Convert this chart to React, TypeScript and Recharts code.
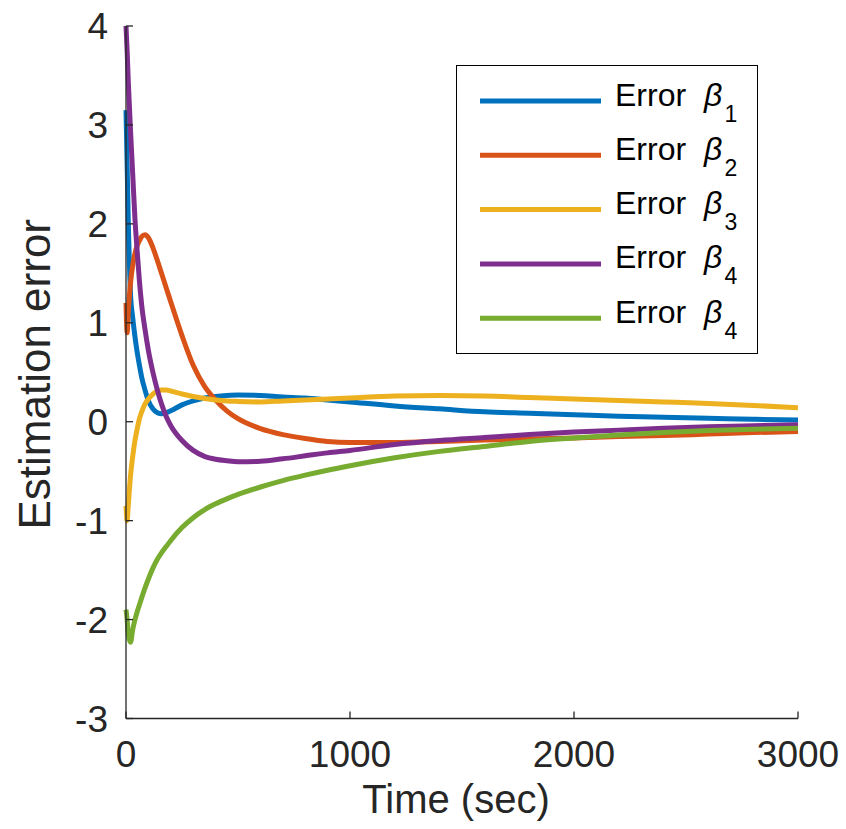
import { LineChart, Line, XAxis, YAxis, Legend } from "recharts"

const times = [
  0, 5, 10, 20, 30, 40, 50, 60, 70, 85, 100, 120, 140, 160, 180, 200, 250, 300, 350, 400, 450, 500,
  600, 700, 800, 900, 1000, 1200, 1400, 1600, 1800, 2000, 2200, 2400, 2600, 2800, 3000,
]

const beta1 = [
  3.15, 2.6, 2.05, 1.3, 1.05, 0.86, 0.7, 0.57, 0.45, 0.32, 0.21, 0.13, 0.09, 0.08, 0.09, 0.11, 0.17, 0.21, 0.24,
  0.255, 0.265, 0.27, 0.265, 0.25, 0.24, 0.22, 0.2, 0.16, 0.13, 0.1, 0.085, 0.07, 0.055, 0.045, 0.035, 0.025, 0.017,
]

const beta2 = [
  1.2, 0.9, 1.1, 1.4, 1.58, 1.7, 1.78, 1.83, 1.87, 1.89, 1.86, 1.76, 1.63, 1.49, 1.35, 1.21, 0.87, 0.57, 0.36,
  0.22, 0.11, 0.03, -0.07, -0.13, -0.17, -0.2, -0.21, -0.21, -0.2, -0.185, -0.175, -0.165, -0.15, -0.14, -0.125,
  -0.11, -0.1,
]

const beta3 = [
  -0.85, -1.0, -0.85, -0.55, -0.35, -0.19, -0.07, 0.03, 0.1, 0.18, 0.23, 0.28, 0.31, 0.32, 0.32, 0.31, 0.28, 0.255,
  0.235, 0.22, 0.21, 0.205, 0.2, 0.21, 0.22, 0.23, 0.24, 0.26, 0.265, 0.26, 0.245, 0.23, 0.215, 0.2, 0.185, 0.165,
  0.14,
]

const beta4 = [
  4.0, 3.75, 3.45, 2.95, 2.5, 2.05, 1.72, 1.42, 1.18, 0.93, 0.72, 0.5, 0.32, 0.17, 0.05, -0.04, -0.19, -0.29, -0.35,
  -0.38, -0.395, -0.405, -0.4, -0.375, -0.345, -0.315, -0.29, -0.23, -0.19, -0.16, -0.13, -0.105, -0.085, -0.065,
  -0.05, -0.04, -0.03,
]

const beta5 = [
  -1.9, -2.0, -2.15, -2.23, -2.1, -2.0, -1.92, -1.85, -1.78, -1.68, -1.59, -1.48, -1.39, -1.32, -1.26, -1.2, -1.07,
  -0.97, -0.89, -0.83, -0.78, -0.735, -0.66, -0.595, -0.54, -0.49, -0.445, -0.365, -0.3, -0.25, -0.2, -0.165, -0.135,
  -0.11, -0.09, -0.075, -0.065,
]

const xTicks = [0, 1000, 2000, 3000]
const yTicks = [-3, -2, -1, 0, 1, 2, 3, 4]

const seriesKeys = ["b1", "b2", "b3", "b4", "b5"]
const seriesColors = ["#0072BD", "#D95319", "#EDB120", "#7E2F8E", "#77AC30"]
const seriesSubs = ["1", "2", "3", "4", "4"]

const data = times.map((t, i) => ({
  t,
  b1: beta1[i],
  b2: beta2[i],
  b3: beta3[i],
  b4: beta4[i],
  b5: beta5[i],
}))

const FONT = "'Liberation Sans', Arial, Helvetica, sans-serif"
const AXIS = "#262626"

const YLabel = ({ viewBox }: any) => {
  const cx = viewBox.x + 50
  const cy = viewBox.y + viewBox.height / 2 + 2
  return (
    <text
      x={cx}
      y={cy}
      transform={`rotate(-90 ${cx} ${cy})`}
      textAnchor="middle"
      fontSize={44}
      fontFamily={FONT}
      fill={AXIS}
    >
      Estimation error
    </text>
  )
}

const XLabel = ({ viewBox }: any) => {
  const cx = viewBox.x + viewBox.width / 2 - 6
  return (
    <text x={cx} y={813} textAnchor="middle" fontSize={40} fontFamily={FONT} fill={AXIS}>
      Time (sec)
    </text>
  )
}

const renderLegend = () => (
  <svg width={302} height={289} style={{ display: "block" }}>
    <rect x={0.5} y={0.5} width={301} height={288} fill="#fff" stroke="#000" strokeWidth={1} />
    {seriesKeys.map((k, i) => {
      const ly = 36 + i * 54.3
      return (
        <g key={k}>
          <line x1={24} x2={145} y1={ly} y2={ly} stroke={seriesColors[i]} strokeWidth={5} />
          <text x={159} y={ly + 4.5} fontSize={32} fontFamily={FONT} fill="#000">
            Error
            <tspan dx={18} fontStyle="italic">
              β
            </tspan>
            <tspan dx={2} dy={16} fontSize={23}>
              {seriesSubs[i]}
            </tspan>
          </text>
        </g>
      )
    })}
  </svg>
)

export default function App() {
  return (
    <div style={{ position: "absolute", left: 0, top: 0, background: "#fff" }}>
      <LineChart width={846} height={829} data={data} margin={{ top: 26, right: 48, bottom: 50, left: 0 }}>
        <XAxis
          dataKey="t"
          type="number"
          domain={[0, 3000]}
          ticks={xTicks}
          interval={0}
          height={60.5}
          stroke={AXIS}
          strokeWidth={1.3}
          tickSize={-7}
          tickMargin={29.5}
          tick={{ fill: AXIS, fontSize: 37, fontFamily: FONT }}
          label={<XLabel />}
        />
        <YAxis
          type="number"
          domain={[-3, 4]}
          ticks={yTicks}
          interval={0}
          width={126}
          stroke={AXIS}
          strokeWidth={1.3}
          tickSize={-7}
          tickMargin={25}
          tick={{ fill: AXIS, fontSize: 37, fontFamily: FONT }}
          label={<YLabel />}
        />
        <Legend
          layout="vertical"
          align="center"
          verticalAlign="middle"
          content={renderLegend}
          wrapperStyle={{ position: "absolute", left: 456, top: 65, width: 302, height: 289 }}
        />
        {seriesKeys.map((k, i) => (
          <Line
            key={k}
            dataKey={k}
            name={`Error β${seriesSubs[i]}`}
            type="monotone"
            stroke={seriesColors[i]}
            strokeWidth={5}
            dot={false}
            isAnimationActive={false}
          />
        ))}
      </LineChart>
    </div>
  )
}
